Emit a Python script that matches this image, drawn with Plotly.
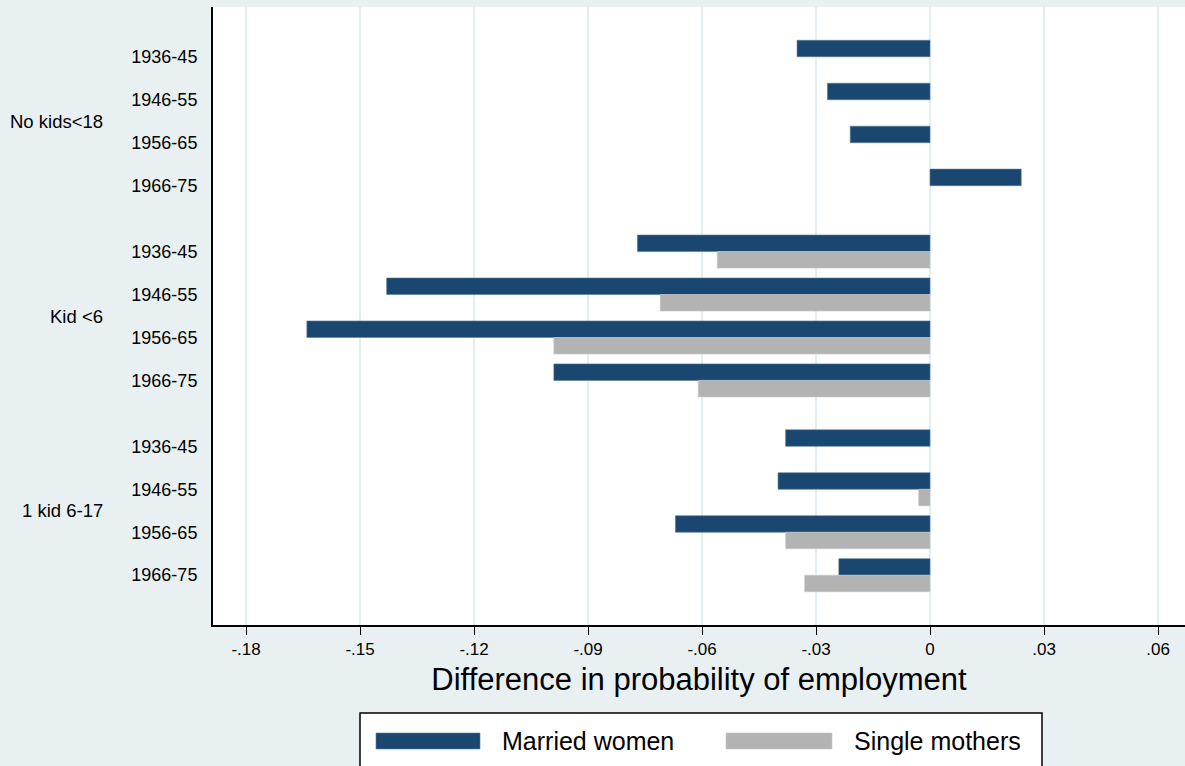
import plotly.graph_objects as go

groups = ["No kids<18", "Kid <6", "1 kid 6-17"]
cohorts = ["1936-45", "1946-55", "1956-65", "1966-75"]
married = {
    "No kids<18": [-0.035, -0.027, -0.021, 0.024],
    "Kid <6": [-0.077, -0.143, -0.164, -0.099],
    "1 kid 6-17": [-0.038, -0.040, -0.067, -0.024],
}
single = {
    "No kids<18": [None, None, None, None],
    "Kid <6": [-0.056, -0.071, -0.099, -0.061],
    "1 kid 6-17": [None, -0.003, -0.038, -0.033],
}
x_ticks = [-0.18, -0.15, -0.12, -0.09, -0.06, -0.03, 0, 0.03, 0.06]
x_tick_labels = ["-.18", "-.15", "-.12", "-.09", "-.06", "-.03", "0", ".03", ".06"]

NAVY = "#1a476f"
GRAY = "#b3b3b3"
BG = "#e9f0f2"
GROUP_STEP = 4.535

ypos, ylab, xm, xs = [], [], [], []
group_centers = []
for g, name in enumerate(groups):
    base = g * GROUP_STEP
    group_centers.append(base + 1.5)
    for i, c in enumerate(cohorts):
        ypos.append(base + i)
        ylab.append(c)
        xm.append(married[name][i])
        xs.append(single[name][i])

fig = go.Figure()
fig.add_trace(go.Bar(x=xm, y=ypos, orientation="h", name="Married women",
                     marker=dict(color=NAVY, line=dict(color="#5a7a98", width=0.6))))
fig.add_trace(go.Bar(x=xs, y=ypos, orientation="h", name="Single mothers",
                     marker=dict(color=GRAY, line=dict(color="#c8c8c8", width=0.6))))

ymax = ypos[-1]
fig.update_layout(
    width=1185, height=766,
    margin=dict(l=213, r=0, t=7, b=141),
    paper_bgcolor=BG, plot_bgcolor="white",
    barmode="group", bargap=0.23, bargroupgap=0,
    showlegend=False,
    font=dict(family="Liberation Sans, Arial, sans-serif", color="#000"),
)
fig.update_xaxes(
    range=[-0.1887, 0.0671], tickvals=x_ticks, ticktext=x_tick_labels,
    showgrid=True, gridcolor="#e4eef1", gridwidth=2, zeroline=False,
    showline=True, linecolor="black", linewidth=1.5,
    ticks="outside", ticklen=8, tickcolor="black", tickwidth=1.3,
    tickfont=dict(size=17),
    title=dict(text="Difference in probability of employment",
               font=dict(size=31), standoff=10),
)
fig.update_yaxes(
    range=[ymax + 1.16, -1.16], tickvals=ypos, ticktext=ylab,
    showgrid=False, zeroline=False,
    showline=True, linecolor="black", linewidth=2,
    ticks="outside", ticklen=10, tickcolor="rgba(0,0,0,0)",
    tickfont=dict(size=18),
)

for name, yc in zip(groups, group_centers):
    fig.add_annotation(text=name, x=-0.111, xref="paper", y=yc, yref="y",
                       xanchor="right", yanchor="middle", showarrow=False,
                       font=dict(size=18.5))

# Legend (Stata style)
def px_x(p):
    return (p - 213) / 972

def px_y(p):
    return (625 - p) / 618

fig.add_shape(type="rect", xref="paper", yref="paper",
              x0=px_x(360), x1=px_x(1042), y0=px_y(790), y1=px_y(713),
              fillcolor="white", line=dict(color="black", width=1.5), layer="above")
fig.add_shape(type="rect", xref="paper", yref="paper",
              x0=px_x(376), x1=px_x(480), y0=px_y(749), y1=px_y(733),
              fillcolor=NAVY, line=dict(color="#5a7a98", width=0.6))
fig.add_shape(type="rect", xref="paper", yref="paper",
              x0=px_x(726), x1=px_x(832), y0=px_y(749), y1=px_y(733),
              fillcolor=GRAY, line=dict(color="#c8c8c8", width=0.6))
for txt, px in [("Married women", 500), ("Single mothers", 852)]:
    fig.add_annotation(text=txt, x=px_x(px), y=px_y(741), xref="paper", yref="paper",
                       xanchor="left", yanchor="middle", showarrow=False,
                       font=dict(size=25))

fig.write_html("out.html", config={"displayModeBar": False},
               post_script="document.body.style.margin='0px';")
